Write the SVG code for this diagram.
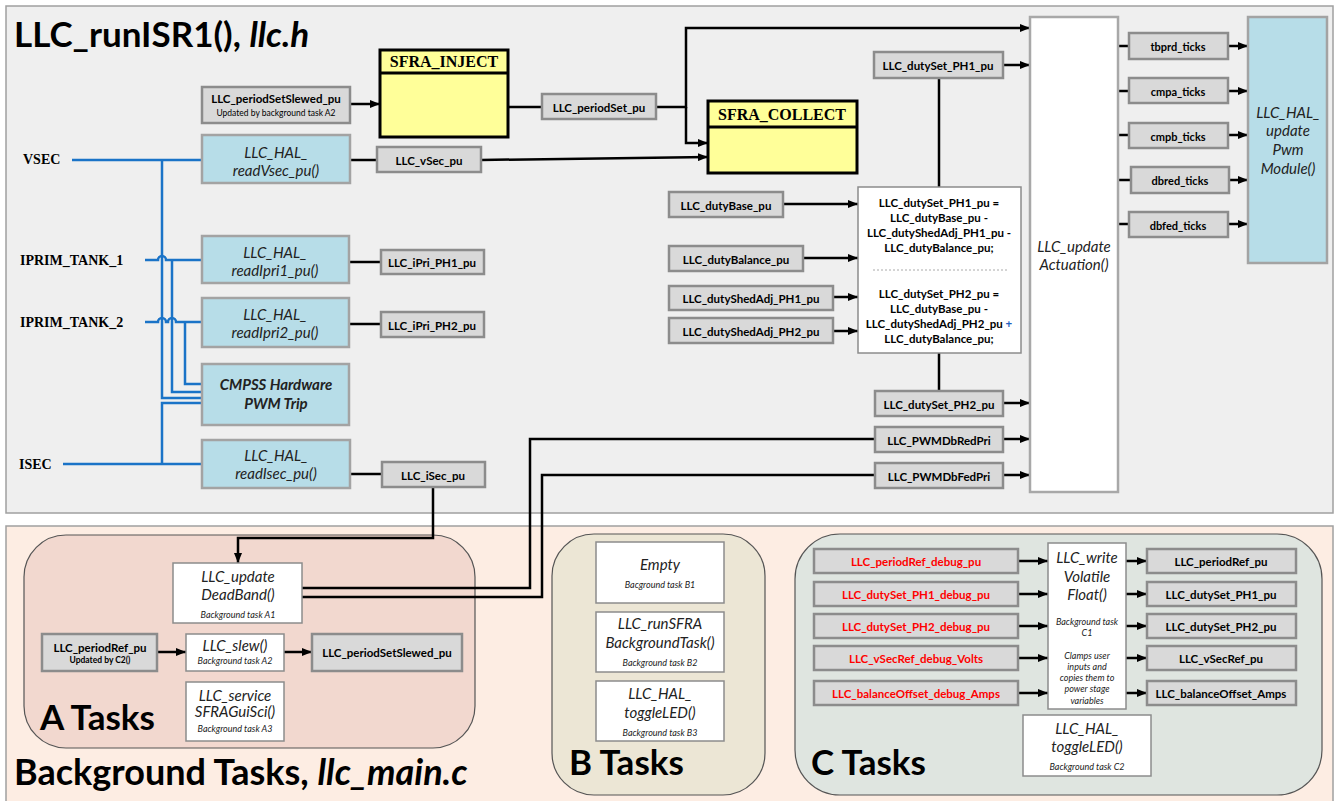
<svg xmlns="http://www.w3.org/2000/svg" width="1336" height="801" viewBox="0 0 1336 801">
<defs>
<marker id="ah" markerWidth="10" markerHeight="8" refX="10" refY="4" orient="auto" markerUnits="userSpaceOnUse"><path d="M0,0 L10,4 L0,8 z" fill="#000"/></marker>
<style>
text{font-family:Lato,"Open Sans",sans-serif;fill:#000}
.var{fill:#d9d9d9;stroke:#8c8c8c;stroke-width:2.5}
.blu{fill:#b7dde8;stroke:#a3a3a3;stroke-width:2.5}
.wht{fill:#fff;stroke:#8c8c8c;stroke-width:1.5}
.yel{fill:#ffff99;stroke:#000;stroke-width:3}
.vb{font-size:11.5px;font-weight:bold;text-anchor:middle;dominant-baseline:central}
.tk{font-size:11px;font-weight:bold;text-anchor:middle;dominant-baseline:central}
.it{font-size:15px;font-style:italic;text-anchor:middle;dominant-baseline:central;fill:#222}
.sm{font-size:9px;font-style:italic;text-anchor:middle;dominant-baseline:central;fill:#222}
.sig{font-family:"Liberation Serif",serif;font-size:14px;font-weight:bold;dominant-baseline:central}
.hdr{font-family:"Liberation Serif",serif;font-size:16px;font-weight:bold;text-anchor:middle}
.red{fill:#ff0000}
.big{font-weight:bold}
.conn path{fill:none;stroke:#000;stroke-width:2.5}
.bl path{fill:none;stroke:#1a73c7;stroke-width:2.5}
</style>
</defs>

<!-- panels -->
<rect x="6" y="6" width="1327" height="507" fill="#efefef" stroke="#a0a0a0" stroke-width="1.5"/>
<rect x="6" y="526" width="1327" height="285" fill="#fdede3" stroke="#a0a0a0" stroke-width="1.5"/>
<text x="14" y="47" class="big" font-size="35">LLC_runISR1(), <tspan font-style="italic">llc.h</tspan></text>
<text x="14" y="785" class="big" font-size="36">Background Tasks, <tspan font-style="italic">llc_main.c</tspan></text>

<!-- task regions -->
<g id="regionA"><rect x="24" y="535" width="451" height="213" rx="42" fill="#f2d8cf" stroke="#555" stroke-width="1.2"/><text x="40" y="730" class="big" font-size="35">A Tasks</text></g>
<g id="regionB"><rect x="552" y="534" width="213" height="261" rx="42" fill="#ece6d5" stroke="#555" stroke-width="1.2"/><text x="569" y="775" class="big" font-size="35">B Tasks</text></g>
<g id="regionC"><rect x="795" y="534" width="527" height="261" rx="45" fill="#dfe5e0" stroke="#555" stroke-width="1.2"/><text x="811" y="775" class="big" font-size="35">C Tasks</text></g>

<!-- signal labels -->
<g id="sig-vsec"><text x="23" y="159" class="sig">VSEC</text></g>
<g id="sig-iprim1"><text x="20" y="260" class="sig">IPRIM_TANK_1</text></g>
<g id="sig-iprim2"><text x="20" y="322" class="sig">IPRIM_TANK_2</text></g>
<g id="sig-isec"><text x="19" y="464" class="sig">ISEC</text></g>

<!-- blue signal lines -->
<g class="bl" id="blue-lines">
<path d="M72,160 H202"/>
<path d="M162,160 V398 H202"/>
<path d="M63,464 H202"/>
<path d="M162,464 V403 H202"/>
<path d="M145,260 H158 A4,4 0 0 1 166,260 H202"/>
<path d="M172,260 V392 H202"/>
<path d="M145,322 H158 A4,4 0 0 1 166,322 H168 A4,4 0 0 1 176,322 H202"/>
<path d="M185,322 V384 H202"/>
</g>

<!-- connectors -->
<g class="conn" id="connectors">
<path d="M350,104 H380" marker-end="url(#ah)"/>
<path d="M508,107 H542"/>
<path d="M656,107 H686 V28 H1030" marker-end="url(#ah)"/>
<path d="M686,107 V143 H708" marker-end="url(#ah)"/>
<path d="M350,160 H377"/>
<path d="M481,160 L708,157" marker-end="url(#ah)"/>
<path d="M349,262 H381"/>
<path d="M349,324 H381"/>
<path d="M350,474 H382"/>
<path d="M433,487 V538 H238 V563" marker-end="url(#ah)"/>
<path d="M302,588 H530 V439 H875"/>
<path d="M302,597 H542 V475 H875"/>
<path d="M1003,65 H1030" marker-end="url(#ah)"/>
<path d="M1003,403 H1030" marker-end="url(#ah)"/>
<path d="M1003,439 H1030" marker-end="url(#ah)"/>
<path d="M1003,475 H1030" marker-end="url(#ah)"/>
<path d="M939,78 V187"/>
<path d="M939,353 V391"/>
<path d="M783,204 H858" marker-end="url(#ah)"/>
<path d="M803,258 H858" marker-end="url(#ah)"/>
<path d="M833,297 H858" marker-end="url(#ah)"/>
<path d="M833,331 H858" marker-end="url(#ah)"/>
<path d="M1118,46 H1129"/><path d="M1228,46 H1248" marker-end="url(#ah)"/>
<path d="M1118,91 H1129"/><path d="M1228,91 H1248" marker-end="url(#ah)"/>
<path d="M1118,135 H1129"/><path d="M1228,135 H1248" marker-end="url(#ah)"/>
<path d="M1118,180 H1131"/><path d="M1229,180 H1248" marker-end="url(#ah)"/>
<path d="M1118,224 H1129"/><path d="M1228,224 H1248" marker-end="url(#ah)"/>
<path d="M157,652 H186" marker-end="url(#ah)"/>
<path d="M284,652 H312" marker-end="url(#ah)"/>
<path d="M1018,561 H1048" marker-end="url(#ah)"/>
<path d="M1018,594 H1048" marker-end="url(#ah)"/>
<path d="M1018,626 H1048" marker-end="url(#ah)"/>
<path d="M1018,658 H1048" marker-end="url(#ah)"/>
<path d="M1018,693 H1048" marker-end="url(#ah)"/>
<path d="M1126,561 H1147" marker-end="url(#ah)"/>
<path d="M1126,594 H1147" marker-end="url(#ah)"/>
<path d="M1126,626 H1147" marker-end="url(#ah)"/>
<path d="M1126,658 H1147" marker-end="url(#ah)"/>
<path d="M1126,693 H1147" marker-end="url(#ah)"/>
</g>

<!-- SFRA blocks -->
<g id="sfra-inject"><rect x="380" y="50" width="128" height="87" class="yel"/><line x1="380" y1="73" x2="508" y2="73" stroke="#000" stroke-width="3"/><text x="444" y="67" class="hdr">SFRA_INJECT</text></g>
<g id="sfra-collect"><rect x="708" y="101" width="149" height="72" class="yel"/><line x1="708" y1="127" x2="857" y2="127" stroke="#000" stroke-width="3"/><text x="782" y="120" class="hdr">SFRA_COLLECT</text></g>

<!-- ISR variable boxes -->
<g id="periodSetSlewed-top"><rect x="202" y="87" width="148" height="36" class="var"/><text x="276" y="98" class="vb">LLC_periodSetSlewed_pu</text><text x="276" y="113" class="tk" style="font-weight:normal;font-size:8.5px">Updated by background task A2</text></g>
<g id="periodSet"><rect x="542" y="94" width="114" height="25" class="var"/><text x="599" y="107" class="vb">LLC_periodSet_pu</text></g>
<g id="vSec"><rect x="377" y="147" width="104" height="25" class="var"/><text x="429" y="160" class="vb">LLC_vSec_pu</text></g>
<g id="iPri1"><rect x="381" y="250" width="103" height="24" class="var"/><text x="432" y="262" class="vb">LLC_iPri_PH1_pu</text></g>
<g id="iPri2"><rect x="381" y="312" width="103" height="25" class="var"/><text x="432" y="325" class="vb">LLC_iPri_PH2_pu</text></g>
<g id="iSec"><rect x="382" y="462" width="103" height="25" class="var"/><text x="433" y="475" class="vb">LLC_iSec_pu</text></g>
<g id="dutySetPH1"><rect x="874" y="52" width="129" height="26" class="var"/><text x="938" y="65" class="vb">LLC_dutySet_PH1_pu</text></g>
<g id="dutyBase"><rect x="669" y="192" width="114" height="25" class="var"/><text x="726" y="205" class="vb">LLC_dutyBase_pu</text></g>
<g id="dutyBalance"><rect x="669" y="246" width="134" height="25" class="var"/><text x="736" y="259" class="vb">LLC_dutyBalance_pu</text></g>
<g id="shed1"><rect x="669" y="286" width="164" height="24" class="var"/><text x="751" y="298" class="vb">LLC_dutyShedAdj_PH1_pu</text></g>
<g id="shed2"><rect x="669" y="318" width="164" height="25" class="var"/><text x="751" y="331" class="vb">LLC_dutyShedAdj_PH2_pu</text></g>
<g id="dutySetPH2"><rect x="875" y="391" width="128" height="25" class="var"/><text x="939" y="404" class="vb">LLC_dutySet_PH2_pu</text></g>
<g id="dbRed"><rect x="875" y="427" width="128" height="25" class="var"/><text x="939" y="440" class="vb">LLC_PWMDbRedPri</text></g>
<g id="dbFed"><rect x="875" y="463" width="128" height="25" class="var"/><text x="939" y="476" class="vb">LLC_PWMDbFedPri</text></g>
<g id="tbprd"><rect x="1129" y="33" width="99" height="26" class="var"/><text x="1178" y="46" class="tk">tbprd_ticks</text></g>
<g id="cmpa"><rect x="1129" y="78" width="99" height="25" class="var"/><text x="1178" y="91" class="tk">cmpa_ticks</text></g>
<g id="cmpb"><rect x="1129" y="123" width="99" height="25" class="var"/><text x="1178" y="136" class="tk">cmpb_ticks</text></g>
<g id="dbred"><rect x="1131" y="167" width="98" height="26" class="var"/><text x="1180" y="180" class="tk">dbred_ticks</text></g>
<g id="dbfed"><rect x="1129" y="212" width="99" height="25" class="var"/><text x="1178" y="225" class="tk">dbfed_ticks</text></g>

<!-- HAL blue boxes -->
<g id="readVsec"><rect x="202" y="135" width="148" height="48" class="blu"/><text x="276" y="152" class="it">LLC_HAL_</text><text x="276" y="170" class="it">readVsec_pu()</text></g>
<g id="readIpri1"><rect x="202" y="236" width="147" height="47" class="blu"/><text x="275" y="252" class="it">LLC_HAL_</text><text x="275" y="270" class="it">readIpri1_pu()</text></g>
<g id="readIpri2"><rect x="202" y="298" width="147" height="49" class="blu"/><text x="275" y="314" class="it">LLC_HAL_</text><text x="275" y="332" class="it">readIpri2_pu()</text></g>
<g id="cmpss"><rect x="202" y="364" width="147" height="61" class="blu"/><text x="276" y="384" class="it" style="font-weight:bold">CMPSS Hardware</text><text x="276" y="403" class="it" style="font-weight:bold">PWM Trip</text></g>
<g id="readIsec"><rect x="202" y="440" width="148" height="48" class="blu"/><text x="276" y="455" class="it">LLC_HAL_</text><text x="276" y="473" class="it">readIsec_pu()</text></g>
<g id="updatePwm"><rect x="1248" y="17" width="79" height="246" class="blu"/><text x="1288" y="112" class="it">LLC_HAL_</text><text x="1288" y="130" class="it">update</text><text x="1288" y="149" class="it">Pwm</text><text x="1288" y="168" class="it">Module()</text></g>

<!-- white function boxes -->
<g id="actuation"><rect x="1030" y="17" width="88" height="475" fill="#fff" stroke="#a8a8a8" stroke-width="2.5"/><text x="1074" y="246" class="it">LLC_update</text><text x="1074" y="264" class="it">Actuation()</text></g>
<g id="formula"><rect x="858" y="187" width="163" height="166" class="wht"/>
<text x="939" y="202" class="vb">LLC_dutySet_PH1_pu =</text>
<text x="939" y="217" class="vb">LLC_dutyBase_pu -</text>
<text x="939" y="232" class="vb">LLC_dutyShedAdj_PH1_pu -</text>
<text x="939" y="247" class="vb">LLC_dutyBalance_pu;</text>
<line x1="873" y1="270" x2="1008" y2="270" stroke="#aaa" stroke-width="1" stroke-dasharray="2,2"/>
<text x="939" y="293" class="vb">LLC_dutySet_PH2_pu =</text>
<text x="939" y="308" class="vb">LLC_dutyBase_pu -</text>
<text x="939" y="323" class="vb">LLC_dutyShedAdj_PH2_pu <tspan fill="#1f5fbf">+</tspan></text>
<text x="939" y="338" class="vb">LLC_dutyBalance_pu;</text></g>

<!-- A tasks -->
<g id="deadband"><rect x="173" y="563" width="129" height="60" class="wht"/><text x="238" y="576" class="it">LLC_update</text><text x="238" y="594" class="it">DeadBand()</text><text x="238" y="614" class="sm">Background task A1</text></g>
<g id="periodRef-A"><rect x="42" y="634" width="115" height="37" class="var"/><text x="100" y="647" class="vb">LLC_periodRef_pu</text><text x="100" y="660" class="tk" style="font-size:8.5px">Updated by C2()</text></g>
<g id="slew"><rect x="186" y="634" width="98" height="37" class="wht"/><text x="235" y="645" class="it">LLC_slew()</text><text x="235" y="660" class="sm">Background task A2</text></g>
<g id="periodSetSlewed-A"><rect x="312" y="634" width="150" height="37" class="var"/><text x="387" y="652" class="vb">LLC_periodSetSlewed_pu</text></g>
<g id="service"><rect x="186" y="682" width="98" height="59" class="wht"/><text x="235" y="695" class="it">LLC_service</text><text x="235" y="711" class="it">SFRAGuiSci()</text><text x="235" y="728" class="sm">Background task A3</text></g>

<!-- B tasks -->
<g id="empty"><rect x="596" y="542" width="128" height="61" class="wht"/><text x="660" y="564" class="it">Empty</text><text x="660" y="584" class="sm">Bacground task B1</text></g>
<g id="runSFRA"><rect x="596" y="612" width="128" height="60" class="wht"/><text x="660" y="623" class="it">LLC_runSFRA</text><text x="660" y="642" class="it">BackgroundTask()</text><text x="660" y="662" class="sm">Background task B2</text></g>
<g id="toggleB"><rect x="596" y="681" width="128" height="60" class="wht"/><text x="660" y="693" class="it">LLC_HAL_</text><text x="660" y="712" class="it">toggleLED()</text><text x="660" y="732" class="sm">Background task B3</text></g>

<!-- C tasks -->
<g id="c-in1"><rect x="814" y="549" width="204" height="24" class="var"/><text x="916" y="561" class="vb red">LLC_periodRef_debug_pu</text></g>
<g id="c-in2"><rect x="814" y="582" width="204" height="24" class="var"/><text x="916" y="594" class="vb red">LLC_dutySet_PH1_debug_pu</text></g>
<g id="c-in3"><rect x="814" y="614" width="204" height="24" class="var"/><text x="916" y="626" class="vb red">LLC_dutySet_PH2_debug_pu</text></g>
<g id="c-in4"><rect x="814" y="646" width="204" height="24" class="var"/><text x="916" y="658" class="vb red">LLC_vSecRef_debug_Volts</text></g>
<g id="c-in5"><rect x="814" y="681" width="204" height="24" class="var"/><text x="916" y="693" class="vb red">LLC_balanceOffset_debug_Amps</text></g>
<g id="writeVolatile"><rect x="1048" y="543" width="78" height="166" class="wht"/>
<text x="1087" y="557" class="it">LLC_write</text><text x="1087" y="576" class="it">Volatile</text><text x="1087" y="594" class="it">Float()</text>
<text x="1087" y="621" class="sm">Background task</text><text x="1087" y="632" class="sm">C1</text>
<text x="1087" y="655" class="sm">Clamps user</text><text x="1087" y="666" class="sm">inputs and</text><text x="1087" y="677" class="sm">copies them to</text><text x="1087" y="688" class="sm">power stage</text><text x="1087" y="700" class="sm">variables</text></g>
<g id="c-out1"><rect x="1147" y="549" width="149" height="24" class="var"/><text x="1221" y="561" class="vb">LLC_periodRef_pu</text></g>
<g id="c-out2"><rect x="1147" y="582" width="149" height="24" class="var"/><text x="1221" y="594" class="vb">LLC_dutySet_PH1_pu</text></g>
<g id="c-out3"><rect x="1147" y="614" width="149" height="24" class="var"/><text x="1221" y="626" class="vb">LLC_dutySet_PH2_pu</text></g>
<g id="c-out4"><rect x="1147" y="646" width="149" height="24" class="var"/><text x="1221" y="658" class="vb">LLC_vSecRef_pu</text></g>
<g id="c-out5"><rect x="1147" y="681" width="149" height="24" class="var"/><text x="1221" y="693" class="vb">LLC_balanceOffset_Amps</text></g>
<g id="toggleC"><rect x="1023" y="715" width="128" height="61" class="wht"/><text x="1087" y="728" class="it">LLC_HAL_</text><text x="1087" y="746" class="it">toggleLED()</text><text x="1087" y="766" class="sm">Background task C2</text></g>
</svg>
